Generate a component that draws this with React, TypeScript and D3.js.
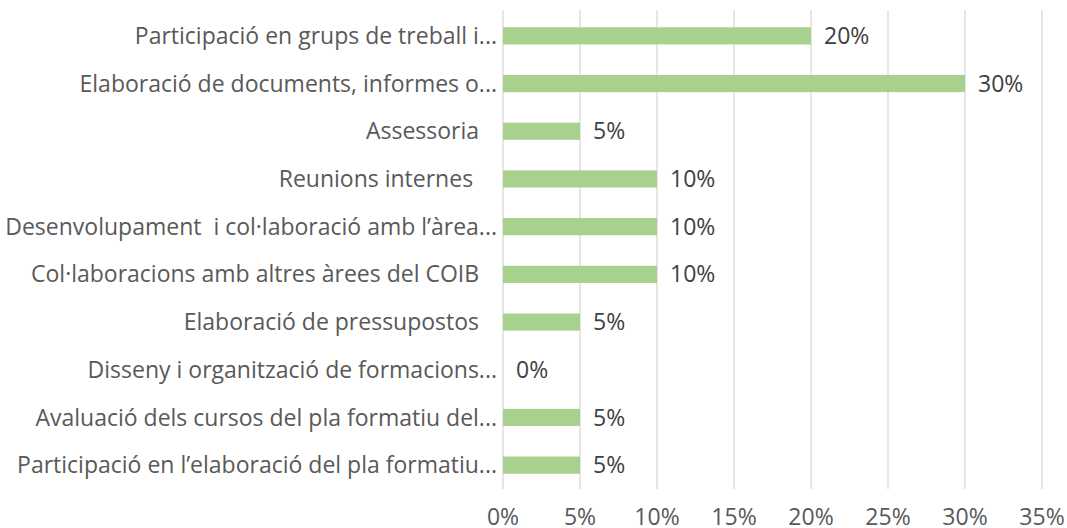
import React from "react";
import * as d3 from "d3";

const categories = [
  "Participació en grups de treball i...",
  "Elaboració de documents, informes o...",
  "Assessoria   ",
  "Reunions internes    ",
  "Desenvolupament  i col·laboració amb l’àrea...",
  "Col·laboracions amb altres àrees del COIB   ",
  "Elaboració de pressupostos   ",
  "Disseny i organització de formacions...",
  "Avaluació dels cursos del pla formatiu del...",
  "Participació en l’elaboració del pla formatiu...",
];
const values = [0.2, 0.3, 0.05, 0.1, 0.1, 0.1, 0.05, 0, 0.05, 0.05];
const ticks = [0, 0.05, 0.1, 0.15, 0.2, 0.25, 0.3, 0.35];

const W = 1067;
const H = 528;
const FONT = "'Open Sans', sans-serif";
const FS = 23;

export default function App() {
  const x = d3.scaleLinear().domain([0, 0.35]).range([503, 1042]);
  const y = d3
    .scaleBand<string>()
    .domain(categories)
    .range([12, 489])
    .paddingInner(0.64)
    .paddingOuter(0.32);
  const pct = d3.format(".0%");
  return (
    <svg
      width={W}
      height={H}
      style={{ position: "absolute", left: 0, top: 0, background: "#fff" }}
      fontFamily={FONT}
    >
      {ticks.map((t) => (
        <line
          key={"g" + t}
          x1={x(t)}
          x2={x(t)}
          y1={10}
          y2={489}
          stroke="#d9d9d9"
          strokeWidth={1.3}
        />
      ))}
      {categories.map((c, i) => {
        const yy = y(c)!;
        const bh = y.bandwidth();
        return (
          <g key={c}>
            <rect
              x={x(0)}
              y={yy}
              width={x(values[i]) - x(0)}
              height={bh}
              fill="#a9d18e"
            />
            <text
              x={x(values[i]) + 13}
              y={yy + bh / 2}
              dy="0.35em"
              fontSize={FS}
              fill="#404040"
            >
              {pct(values[i])}
            </text>
            <text
              x={497}
              y={yy + bh / 2}
              dy="0.35em"
              fontSize={FS}
              fill="#595959"
              textAnchor="end"
              style={{ whiteSpace: "pre" }}
            >
              {c}
            </text>
          </g>
        );
      })}
      {ticks.map((t) => (
        <text
          key={"t" + t}
          x={x(t)}
          y={525}
          fontSize={FS}
          fill="#595959"
          textAnchor="middle"
        >
          {pct(t)}
        </text>
      ))}
    </svg>
  );
}
